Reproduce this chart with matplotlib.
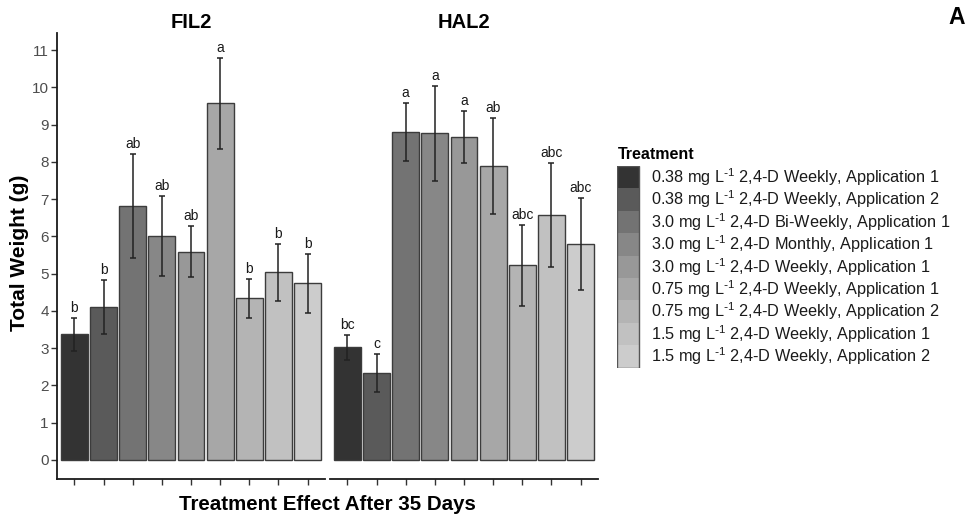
import numpy as np
import matplotlib
matplotlib.use("Agg")
import matplotlib.pyplot as plt
from matplotlib.patches import Rectangle

plt.rcParams["font.family"] = ["Liberation Sans", "DejaVu Sans"]
plt.rcParams["mathtext.default"] = "regular"

# treatments, in plotting order
treatments = [
    r"0.38 mg L$^{\text{-}1}$ 2,4-D Weekly, Application 1",
    r"0.38 mg L$^{\text{-}1}$ 2,4-D Weekly, Application 2",
    r"3.0 mg L$^{\text{-}1}$ 2,4-D Bi-Weekly, Application 1",
    r"3.0 mg L$^{\text{-}1}$ 2,4-D Monthly, Application 1",
    r"3.0 mg L$^{\text{-}1}$ 2,4-D Weekly, Application 1",
    r"0.75 mg L$^{\text{-}1}$ 2,4-D Weekly, Application 1",
    r"0.75 mg L$^{\text{-}1}$ 2,4-D Weekly, Application 2",
    r"1.5 mg L$^{\text{-}1}$ 2,4-D Weekly, Application 1",
    r"1.5 mg L$^{\text{-}1}$ 2,4-D Weekly, Application 2",
]

# mean total weight (g) and standard error
fil2_mean = [3.37, 4.11, 6.81, 6.01, 5.59, 9.57, 4.34, 5.04, 4.74]
fil2_se = [0.45, 0.72, 1.39, 1.07, 0.68, 1.21, 0.53, 0.76, 0.80]
fil2_letters = ["b", "b", "ab", "ab", "ab", "a", "b", "b", "b"]

hal2_mean = [3.02, 2.34, 8.80, 8.77, 8.67, 7.89, 5.23, 6.58, 5.80]
hal2_se = [0.33, 0.51, 0.78, 1.27, 0.71, 1.29, 1.09, 1.39, 1.24]
hal2_letters = ["bc", "c", "a", "a", "a", "ab", "abc", "abc", "abc"]

# grey scale like R's grey.colors(9, 0.2, 0.8)
g = (np.linspace(0.2 ** 2.2, 0.8 ** 2.2, len(treatments))) ** (1 / 2.2)
greys = [(v, v, v) for v in g]

W, H = 967, 517
fig = plt.figure(figsize=(W / 100, H / 100), dpi=100)

ylo, yhi = -0.51, 11.46
txt_col = "#4d4d4d"


def panel(left_px, title, means, ses, letters, show_y):
    ax = fig.add_axes([left_px / W, 38 / H, 268 / W, 446 / H])
    x = np.arange(1, len(means) + 1)
    ax.bar(x, means, width=0.92, color=greys, edgecolor="#3c3c3c",
           linewidth=1.0, zorder=2)
    ax.errorbar(x, means, yerr=ses, fmt="none", ecolor="#222222",
                elinewidth=1.1, capsize=2.5, capthick=1.1, zorder=3)
    for xi, m, s, lab in zip(x, means, ses, letters):
        ax.text(xi, m + s + 0.08, lab, ha="center", va="bottom",
                fontsize=10, color="#1a1a1a")
    ax.set_xlim(0.4, len(means) + 0.6)
    ax.set_ylim(ylo, yhi)
    ax.set_xticks(x)
    ax.set_xticklabels([])
    ax.tick_params(axis="x", length=4, width=1, color="#333333")
    for s in ["top", "right"]:
        ax.spines[s].set_visible(False)
    ax.spines["bottom"].set_linewidth(1.3)
    ax.spines["bottom"].set_color("#1a1a1a")
    if show_y:
        ax.set_yticks(range(0, 12))
        ax.tick_params(axis="y", length=4, width=1, color="#333333",
                       labelsize=11, labelcolor=txt_col, pad=2)
        ax.spines["left"].set_linewidth(1.3)
        ax.spines["left"].set_color("#1a1a1a")
    else:
        ax.spines["left"].set_visible(False)
        ax.set_yticks([])
    # panel strip title
    fig.text((left_px + 134) / W, 1 - 23 / H, title, ha="center",
             va="center", fontsize=14.5, fontweight="bold")
    return ax


panel(57, "FIL2", fil2_mean, fil2_se, fil2_letters, True)
panel(330, "HAL2", hal2_mean, hal2_se, hal2_letters, False)

fig.text(20 / W, 1 - 253 / H, "Total Weight (g)", rotation=90,
         ha="center", va="center", fontsize=15, fontweight="bold")
fig.text(327 / W, 1 - 504 / H, "Treatment Effect After 35 Days",
         ha="center", va="center", fontsize=14.8, fontweight="bold")
fig.text(957 / W, 1 - 17 / H, "A", ha="center", va="center",
         fontsize=16.5, fontweight="bold")

# legend drawn as a stacked key column
n = len(treatments)
key_h = 22.4
lg = fig.add_axes([617 / W, 1 - (166 + n * key_h) / H, 350 / W, n * key_h / H])
lg.set_xlim(0, 350)
lg.set_ylim(n, 0)
lg.axis("off")
for i, (lab, col) in enumerate(zip(treatments, greys)):
    lg.add_patch(Rectangle((0, i), 22, 1, facecolor=col, edgecolor="none"))
    lg.text(34, i + 0.5, lab, va="center", ha="left", fontsize=11.7,
            color="#1a1a1a")
lg.add_patch(Rectangle((0, 0), 22, n, facecolor="none", edgecolor="#555555",
                       linewidth=1))
fig.text(618 / W, 1 - 155 / H, "Treatment", ha="left", va="center",
         fontsize=11.5, fontweight="bold")

fig.savefig("out.png", dpi=100)
